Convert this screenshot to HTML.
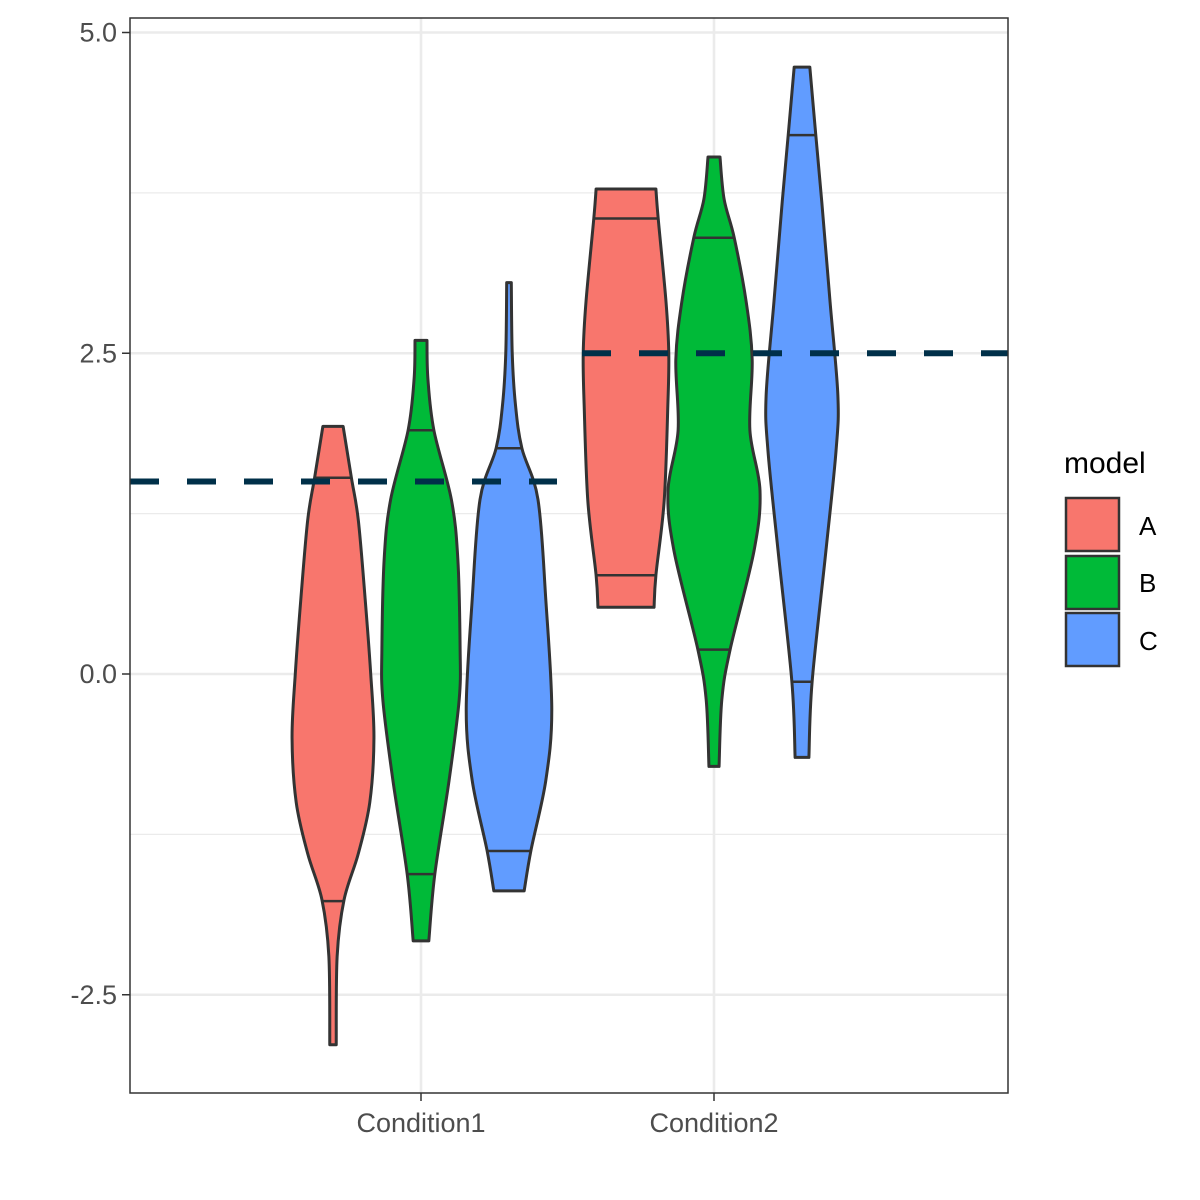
<!DOCTYPE html>
<html><head><meta charset="utf-8"><style>
body{margin:0;background:#fff}
svg{display:block;font-family:"Liberation Sans",sans-serif}
</style></head><body>
<svg id="chart" width="1200" height="1200" viewBox="0 0 1200 1200">
<rect x="0" y="0" width="1200" height="1200" fill="#fff"/>
<g id="grid"></g>
<g id="violins"></g>
<g id="refs"></g>
<rect x="130" y="18" width="878" height="1075" fill="none" stroke="#333" stroke-width="1.5"/>
<g id="axes"></g>
<g>
<text x="1064" y="473" font-size="30" fill="#000">model</text>
<g><rect x="1066" y="498" width="53" height="53" fill="#F8766D" stroke="#333" stroke-width="2.5"/><text x="1139" y="535" font-size="26" fill="#000">A</text></g>
<g><rect x="1066" y="556" width="53" height="53" fill="#00BA38" stroke="#333" stroke-width="2.5"/><text x="1139" y="592" font-size="26" fill="#000">B</text></g>
<g><rect x="1066" y="613" width="53" height="53" fill="#619CFF" stroke="#333" stroke-width="2.5"/><text x="1139" y="650" font-size="26" fill="#000">C</text></g>
</g>
</svg>
<script>
const categories = ["Condition1","Condition2"];
const models = ["A","B","C"];
const colors = {A:"#F8766D",B:"#00BA38",C:"#619CFF"};
const yTicks = [5.0, 2.5, 0.0, -2.5];
const yTickLabels = ["5.0","2.5","0.0","-2.5"];
const yMinor = [3.75, 1.25, -1.25];
const refValues = [1.5, 2.5];
// violin profiles: values (y) and relative density (0..1)
const c1A_vals = [1.93,1.53,1.2,0.58,0,-0.5,-1.0,-1.4,-1.76,-2.2,-2.89];
const c1A_dens = [0.22,0.40,0.55,0.70,0.82,0.89,0.80,0.55,0.24,0.09,0.07];
const c1B_vals = [2.6,2.3,1.9,1.36,0.9,0.2,-0.2,-0.83,-1.56,-2.08];
const c1B_dens = [0.13,0.15,0.28,0.66,0.80,0.85,0.83,0.61,0.30,0.17];
const c1C_vals = [3.05,2.5,2.1,1.76,1.36,0.58,-0.28,-0.83,-1.37,-1.69];
const c1C_dens = [0.05,0.07,0.14,0.28,0.63,0.80,0.93,0.80,0.48,0.33];
const c2A_vals = [3.78,3.55,2.9,2.5,2.1,1.35,0.77,0.52];
const c2A_dens = [0.65,0.70,0.87,0.93,0.91,0.83,0.65,0.61];
const c2B_vals = [4.03,3.7,3.4,2.9,2.45,1.9,1.43,0.96,0.19,-0.2,-0.72];
const c2B_dens = [0.13,0.22,0.44,0.70,0.83,0.78,1.0,0.87,0.35,0.17,0.11];
const c2C_vals = [4.73,4.2,3.68,2.9,2.17,1.74,0.96,-0.06,-0.65];
const c2C_dens = [0.17,0.30,0.43,0.61,0.78,0.74,0.52,0.22,0.15];
const c1A_q=[1.53,-1.77], c1B_q=[1.9,-1.56], c1C_q=[1.76,-1.38];
const c2A_q=[3.55,0.77], c2B_q=[3.4,0.19], c2C_q=[4.2,-0.06];

const NS="http://www.w3.org/2000/svg";
const yS=v=>674-v*128.3;
const xS=i=>421+i*293;
const dodge=j=>(j-1)*88;
const W=46;
function mk(t,a,p){const e=document.createElementNS(NS,t);for(const k in a)e.setAttribute(k,a[k]);p.appendChild(e);return e;}
const grid=document.getElementById('grid');
yMinor.forEach(v=>{const l=mk('line',{x1:130,x2:1008,y1:yS(v),y2:yS(v),stroke:'#ebebeb','stroke-width':1.3},grid);

});
yTicks.forEach(v=>{const l=mk('line',{x1:130,x2:1008,y1:yS(v),y2:yS(v),stroke:'#ebebeb','stroke-width':2.6},grid);

});
categories.forEach((c,i)=>{const l=mk('line',{x1:xS(i),x2:xS(i),y1:18,y2:1093,stroke:'#ebebeb','stroke-width':2.6},grid);

});
const data=[[[c1A_vals,c1A_dens,c1A_q],[c1B_vals,c1B_dens,c1B_q],[c1C_vals,c1C_dens,c1C_q]],
[[c2A_vals,c2A_dens,c2A_q],[c2B_vals,c2B_dens,c2B_q],[c2C_vals,c2C_dens,c2C_q]]];
function interp(vals,dens,v){for(let k=0;k<vals.length-1;k++){if(v<=vals[k]&&v>=vals[k+1]){const t=(vals[k]-v)/(vals[k]-vals[k+1]);return dens[k]+(dens[k+1]-dens[k])*t;}}return dens[dens.length-1];}
function spline(pts){let d=`M${pts[0][0]},${pts[0][1]}`;for(let i=0;i<pts.length-1;i++){const p0=pts[Math.max(i-1,0)],p1=pts[i],p2=pts[i+1],p3=pts[Math.min(i+2,pts.length-1)];
d+=` C${p1[0]+(p2[0]-p0[0])/6},${p1[1]+(p2[1]-p0[1])/6} ${p2[0]-(p3[0]-p1[0])/6},${p2[1]-(p3[1]-p1[1])/6} ${p2[0]},${p2[1]}`;}return d;}
const vg=document.getElementById('violins');
data.forEach((grp,i)=>grp.forEach(([vals,dens,q],j)=>{
const cx=xS(i)+dodge(j);
const R=vals.map((v,k)=>[cx+dens[k]*W,yS(v)]);
const L=vals.map((v,k)=>[cx-dens[k]*W,yS(v)]).reverse();
let d=spline(R)+` L${L[0][0]},${L[0][1]}`+spline(L).replace(/^M[^ C]+/,'')+'Z';
const p=mk('path',{d:d,fill:colors[models[j]],stroke:'#333','stroke-width':3,'stroke-linejoin':'round'},vg);


q.forEach(v=>{const h=interp(vals,dens,v)*W;const l=mk('line',{x1:cx-h,x2:cx+h,y1:yS(v),y2:yS(v),stroke:'#333','stroke-width':2.5},vg);

});
}));
const rg=document.getElementById('refs');
refValues.forEach((v,i)=>{const x1=i===0?130:582,x2=i===0?557:1008;
const l=mk('line',{x1:x1,x2:x2,y1:yS(v),y2:yS(v),stroke:'#003049','stroke-width':6,'stroke-dasharray':'29 28'},rg);

});
const ax=document.getElementById('axes');
yTicks.forEach((v,k)=>{const t=mk('line',{x1:122,x2:130,y1:yS(v),y2:yS(v),stroke:'#333','stroke-width':1.5},ax);


const tx=mk('text',{x:117,y:yS(v)+9,'text-anchor':'end','font-size':27,fill:'#4d4d4d'},ax);tx.textContent=yTickLabels[k];

});
categories.forEach((c,i)=>{const t=mk('line',{x1:xS(i),x2:xS(i),y1:1093,y2:1101,stroke:'#333','stroke-width':1.5},ax);


const tx=mk('text',{x:xS(i),y:1132,'text-anchor':'middle','font-size':27,fill:'#4d4d4d'},ax);tx.textContent=c;

});
</script>
</body></html>
